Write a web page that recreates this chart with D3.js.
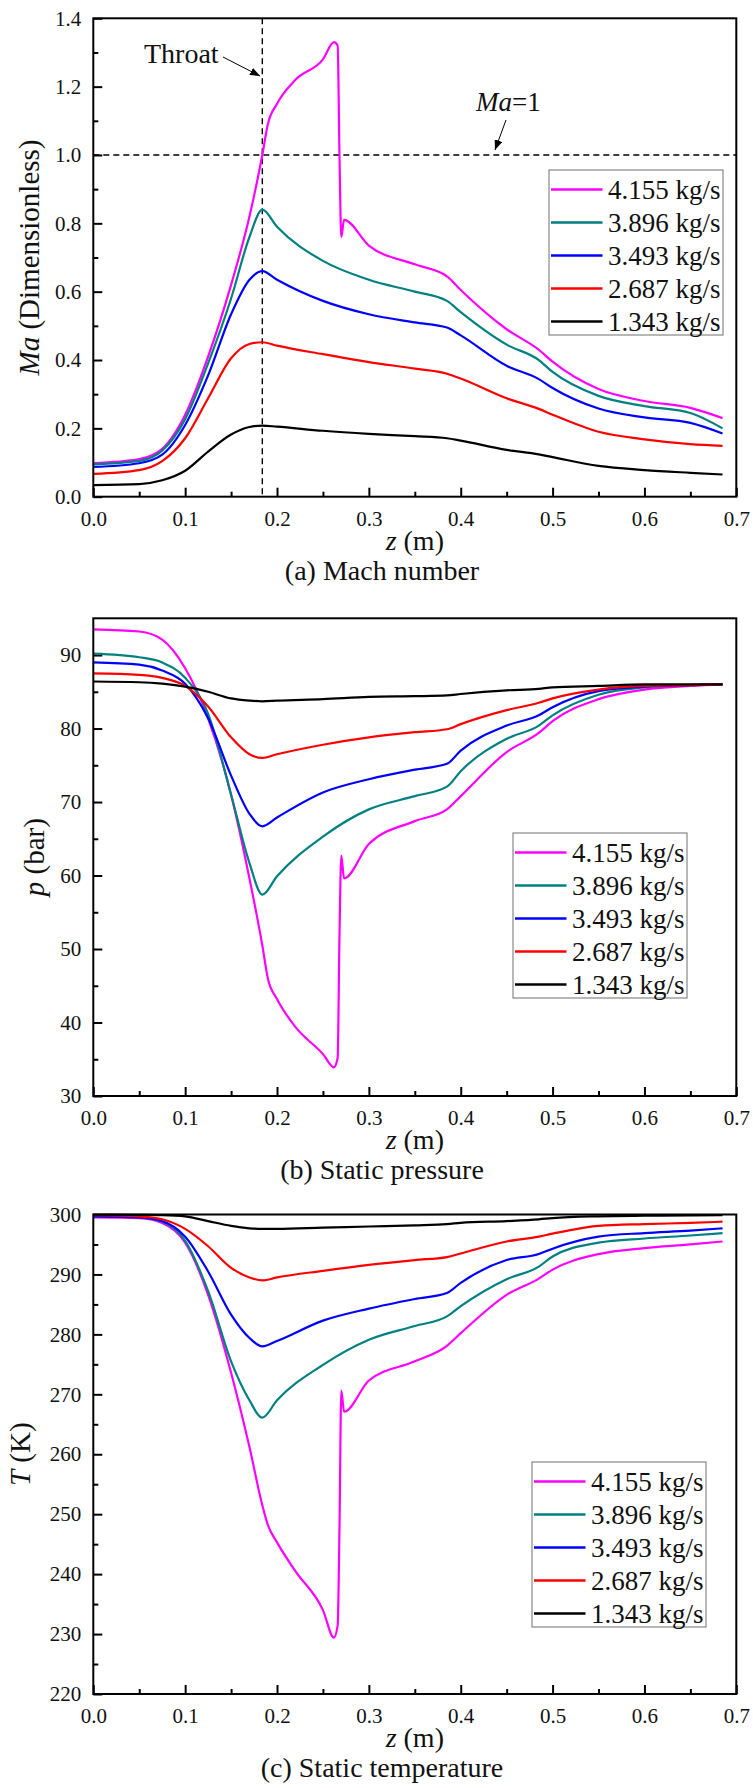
<!DOCTYPE html>
<html><head><meta charset="utf-8">
<script src="https://cdn.jsdelivr.net/npm/d3@7/dist/d3.min.js"></script>
<style>body{margin:0;background:#fff}svg{display:block}
svg text{font-family:"Liberation Serif","Times New Roman",serif}</style>
</head><body><svg id="c" width="753" height="1788"></svg>
<script>
// ---------- data ----------
const zGrid = [0, 0.05, 0.075, 0.1, 0.125, 0.15, 0.17, 0.184, 0.2, 0.25, 0.3, 0.35, 0.385, 0.4, 0.45, 0.485, 0.5, 0.55, 0.6, 0.65, 0.685];
const zShock = [0, 0.05, 0.075, 0.1, 0.125, 0.15, 0.17, 0.184, 0.19, 0.2, 0.22, 0.25, 0.262, 0.266, 0.268, 0.270, 0.273, 0.3, 0.35, 0.385, 0.4, 0.45, 0.485, 0.5, 0.55, 0.6, 0.65, 0.685];
const seriesNames = ["4.155 kg/s", "3.896 kg/s", "3.493 kg/s", "2.687 kg/s", "1.343 kg/s"];
const seriesColors = ["#ff00ff", "#008080", "#0000ff", "#ff0000", "#000000"];
const xTicks = [0, 0.1, 0.2, 0.3, 0.4, 0.5, 0.6, 0.7];
const zThroat = 0.184;

// Mach number
const ma4155 = [0.098, 0.11, 0.14, 0.24, 0.41, 0.62, 0.82, 1.0, 1.09, 1.15, 1.22, 1.28, 1.33, 1.32, 1.0, 0.76, 0.81, 0.735, 0.68, 0.645, 0.605, 0.49, 0.43, 0.395, 0.315, 0.28, 0.26, 0.23];
const ma3896 = [0.095, 0.105, 0.135, 0.227, 0.39, 0.58, 0.76, 0.84, 0.79, 0.69, 0.635, 0.60, 0.573, 0.54, 0.445, 0.40, 0.365, 0.295, 0.265, 0.245, 0.20];
const ma3493 = [0.087, 0.098, 0.123, 0.21, 0.355, 0.534, 0.635, 0.66, 0.635, 0.573, 0.534, 0.51, 0.495, 0.472, 0.383, 0.344, 0.318, 0.258, 0.232, 0.216, 0.185];
const ma2687 = [0.067, 0.078, 0.104, 0.171, 0.288, 0.405, 0.447, 0.452, 0.442, 0.417, 0.394, 0.375, 0.36, 0.346, 0.288, 0.257, 0.24, 0.19, 0.168, 0.154, 0.149];
const ma1343 = [0.034, 0.037, 0.048, 0.076, 0.132, 0.182, 0.204, 0.208, 0.205, 0.193, 0.184, 0.177, 0.171, 0.164, 0.137, 0.124, 0.116, 0.09, 0.078, 0.07, 0.065];
const maTicks = [0, 0.2, 0.4, 0.6, 0.8, 1.0, 1.2, 1.4];

// Static pressure (bar)
const p4155 = [93.5, 93.2, 92.1, 88.2, 81.4, 71, 59.6, 50.5, 46, 43.2, 39.4, 35.7, 33.9, 35.2, 51.8, 62.7, 59.6, 64.3, 67.4, 69, 70.8, 76.8, 79.4, 81, 84, 85.3, 85.8, 86];
const p3896 = [90.2, 89.7, 89, 86.9, 82, 71, 61.7, 57.4, 59.9, 65.3, 69, 70.8, 72.1, 74.2, 78.6, 80.4, 81.8, 84.6, 85.6, 85.9, 86];
const p3493 = [89, 88.7, 87.9, 86.1, 81.4, 73.6, 68.4, 66.7, 67.9, 71.3, 73.1, 74.4, 75.2, 77.0, 80.4, 81.8, 82.9, 85.1, 85.7, 85.9, 86];
const p2687 = [87.5, 87.3, 86.9, 85.8, 83, 78.8, 76.5, 76, 76.5, 77.8, 78.8, 79.5, 79.9, 80.6, 82.5, 83.5, 84.1, 85.3, 85.8, 85.9, 86];
const p1343 = [86.4, 86.3, 86.1, 85.7, 85, 84.1, 83.8, 83.7, 83.8, 84, 84.3, 84.4, 84.5, 84.7, 85.2, 85.4, 85.6, 85.8, 86, 86, 86];
const pTicks = [30, 40, 50, 60, 70, 80, 90];

// Static temperature (K)
const t4155 = [299.5, 299.4, 298.6, 295.3, 286.6, 273.6, 261.2, 251.5, 248.2, 245.3, 240.5, 234, 229.4, 231.4, 247.6, 270.6, 267.1, 272.3, 275.5, 278.1, 280.2, 286.6, 289.3, 290.8, 293.4, 294.4, 295, 295.5];
const t3896 = [299.7, 299.5, 298.8, 295.6, 287.2, 275.5, 269, 266.1, 269, 274.9, 279.1, 281.4, 283, 284.7, 289.2, 291.3, 293.0, 295.3, 296, 296.5, 296.9];
const t3493 = [299.7, 299.5, 298.9, 296.3, 290.5, 283.3, 279.4, 278, 278.9, 282.3, 284.3, 285.9, 286.9, 288.6, 292.4, 293.4, 294.3, 296.3, 296.9, 297.3, 297.7];
const t2687 = [299.9, 299.7, 299.2, 297.6, 294.7, 291.1, 289.5, 289, 289.5, 290.6, 291.6, 292.4, 292.9, 293.5, 295.5, 296.3, 296.8, 298.1, 298.4, 298.6, 298.8];
const t1343 = [300, 299.95, 299.9, 299.7, 298.9, 298.1, 297.7, 297.6, 297.6, 297.8, 298, 298.2, 298.4, 298.6, 298.9, 299.2, 299.4, 299.7, 299.8, 299.85, 299.9];
const tTicks = [220, 230, 240, 250, 260, 270, 280, 290, 300];

// ---------- drawing ----------
const FONT = "Liberation Serif, Times New Roman, serif";
const svg = d3.select("#c");
const L = 93.3, R = 736.3;
const x = d3.scaleLinear().domain([0, 0.7]).range([L, R]);

const defs = svg.append("defs");
defs.append("marker").attr("id", "arr").attr("viewBox", "0 0 10 8").attr("refX", 10).attr("refY", 4)
  .attr("markerWidth", 10).attr("markerHeight", 8).attr("markerUnits", "userSpaceOnUse").attr("orient", "auto")
  .append("path").attr("d", "M0,0 L10,4 L0,8 Z").attr("fill", "#000");

function drawPanel(cfg) {
  const g = svg.append("g");
  const y = d3.scaleLinear().domain(cfg.yDomain).range([cfg.bottom, cfg.top]);
  const xMinor = d3.range(0.05, 0.7, 0.1);

  const gx = g.append("g").attr("transform", `translate(0,${cfg.bottom})`);
  gx.call(d3.axisBottom(x).tickValues(xTicks).tickSize(-9).tickPadding(14).tickFormat(d3.format(".1f")));
  const gxm = g.append("g").attr("transform", `translate(0,${cfg.bottom})`);
  gxm.call(d3.axisBottom(x).tickValues(xMinor).tickSize(-5).tickFormat(""));
  const gy = g.append("g").attr("transform", `translate(${L},0)`);
  gy.call(d3.axisLeft(y).tickValues(cfg.yTicks).tickSize(-9).tickPadding(12).tickFormat(cfg.yFormat));
  const gym = g.append("g").attr("transform", `translate(${L},0)`);
  gym.call(d3.axisLeft(y).tickValues(cfg.yMinor).tickSize(-5).tickFormat(""));
  g.selectAll(".domain").remove();
  g.selectAll("g").attr("font-family", FONT);
  g.selectAll(".tick line").attr("stroke", "#000").attr("stroke-width", 2);
  g.selectAll(".tick text").attr("font-size", 21).attr("fill", "#111");

  if (cfg.annot) cfg.annot(g, y);

  const line = d3.line().x(d => x(d[0])).y(d => y(d[1])).curve(d3.curveMonotoneX);
  cfg.series.forEach((s, i) => {
    g.append("path").datum(d3.zip(s.z, s.v)).attr("d", line)
      .attr("fill", "none").attr("stroke", seriesColors[i]).attr("stroke-width", 2.2)
      .attr("stroke-linejoin", "round");
  });

  g.append("rect").attr("x", L).attr("y", cfg.top).attr("width", R - L).attr("height", cfg.bottom - cfg.top)
    .attr("fill", "none").attr("stroke", "#000").attr("stroke-width", 2);

  const lg = g.append("g").attr("transform", `translate(${cfg.legend[0]},${cfg.legend[1]})`);
  lg.append("rect").attr("width", 174).attr("height", 165).attr("fill", "#fff")
    .attr("stroke", "#888").attr("stroke-width", 1.2);
  seriesNames.forEach((n, i) => {
    const cy = 19.5 + i * 33;
    lg.append("line").attr("x1", 2).attr("x2", 53.5).attr("y1", cy).attr("y2", cy)
      .attr("stroke", seriesColors[i]).attr("stroke-width", 2.5);
    lg.append("text").attr("x", 59).attr("y", cy + 9).attr("font-size", 27).attr("fill", "#111").text(n);
  });

  const xt = g.append("text").attr("x", (L + R) / 2).attr("y", cfg.bottom + 53).attr("text-anchor", "middle")
    .attr("font-size", 28).attr("fill", "#111");
  xt.append("tspan").attr("font-style", "italic").text("z");
  xt.append("tspan").text(" (m)");
  g.append("text").attr("x", 382).attr("y", cfg.bottom + 83).attr("text-anchor", "middle")
    .attr("font-size", 28).attr("fill", "#111").text(cfg.caption);
  const cyT = (cfg.top + cfg.bottom) / 2;
  const yt = g.append("text").attr("transform", `translate(${cfg.yTitleX},${cyT}) rotate(-90)`)
    .attr("text-anchor", "middle").attr("font-size", 29).attr("fill", "#111");
  yt.append("tspan").attr("font-style", "italic").text(cfg.yTitle[0]);
  yt.append("tspan").text(cfg.yTitle[1]);
}

drawPanel({
  top: 18.3, bottom: 496.7, yDomain: [0, 1.4], yTicks: maTicks, yMinor: d3.range(0.1, 1.4, 0.2),
  yFormat: d3.format(".1f"), yTitle: ["Ma", " (Dimensionless)"], yTitleX: 39,
  caption: "(a) Mach number", legend: [549, 170],
  series: [
    { z: zShock, v: ma4155 }, { z: zGrid, v: ma3896 }, { z: zGrid, v: ma3493 },
    { z: zGrid, v: ma2687 }, { z: zGrid, v: ma1343 }],
  annot: (g, y) => {
    g.append("line").attr("x1", x(zThroat)).attr("x2", x(zThroat)).attr("y1", y(1.4)).attr("y2", y(0))
      .attr("stroke", "#000").attr("stroke-width", 1.4).attr("stroke-dasharray", "6,4");
    g.append("line").attr("x1", x(0)).attr("x2", x(0.7)).attr("y1", y(1)).attr("y2", y(1))
      .attr("stroke", "#000").attr("stroke-width", 1.4).attr("stroke-dasharray", "6,4");
    g.append("text").attr("x", 144).attr("y", 63).attr("font-size", 28).attr("fill", "#111").text("Throat");
    g.append("line").attr("x1", 223).attr("y1", 57).attr("x2", 260).attr("y2", 76)
      .attr("stroke", "#000").attr("stroke-width", 1).attr("marker-end", "url(#arr)");
    const mt = g.append("text").attr("x", 476).attr("y", 111).attr("font-size", 27).attr("fill", "#111");
    mt.append("tspan").attr("font-style", "italic").text("Ma");
    mt.append("tspan").text("=1");
    g.append("line").attr("x1", 506).attr("y1", 120).attr("x2", 495).attr("y2", 150)
      .attr("stroke", "#000").attr("stroke-width", 1).attr("marker-end", "url(#arr)");
  }
});

drawPanel({
  top: 618.3, bottom: 1096, yDomain: [30, 95], yTicks: pTicks, yMinor: d3.range(35, 95, 10),
  yFormat: d3.format("d"), yTitle: ["p", " (bar)"], yTitleX: 44,
  caption: "(b) Static pressure", legend: [513, 833],
  series: [
    { z: zShock, v: p4155 }, { z: zGrid, v: p3896 }, { z: zGrid, v: p3493 },
    { z: zGrid, v: p2687 }, { z: zGrid, v: p1343 }]
});

drawPanel({
  top: 1214.5, bottom: 1694, yDomain: [220, 300], yTicks: tTicks, yMinor: d3.range(225, 300, 10),
  yFormat: d3.format("d"), yTitle: ["T", " (K)"], yTitleX: 30,
  caption: "(c) Static temperature", legend: [532, 1462],
  series: [
    { z: zShock, v: t4155 }, { z: zGrid, v: t3896 }, { z: zGrid, v: t3493 },
    { z: zGrid, v: t2687 }, { z: zGrid, v: t1343 }]
});
</script></body></html>
